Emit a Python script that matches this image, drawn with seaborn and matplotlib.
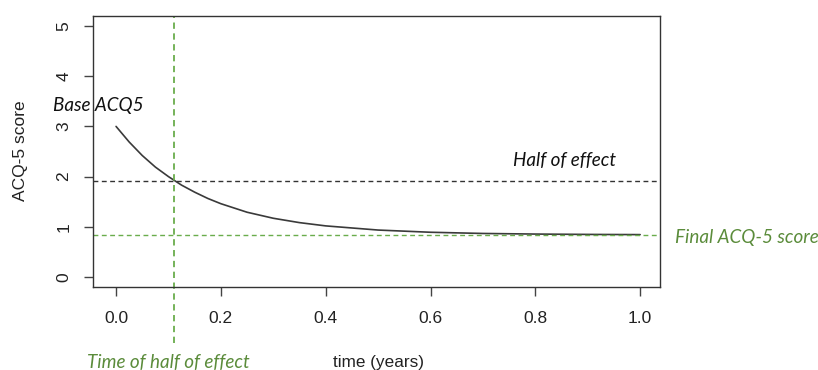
import numpy as np
import pandas as pd
import matplotlib
matplotlib.use("Agg")
import matplotlib.pyplot as plt
import seaborn as sns

# ==========================================
# DATA
# ==========================================

time_years = [0.0, 0.025, 0.05, 0.075, 0.1, 0.125, 0.15, 0.175, 0.2, 0.25,
              0.3, 0.35, 0.4, 0.5, 0.6, 0.7, 0.8, 0.9, 1.0]
acq5_score = [3.0, 2.69, 2.42, 2.19, 2.00, 1.83, 1.69, 1.565, 1.46, 1.29,
              1.17, 1.083, 1.018, 0.935, 0.891, 0.867, 0.855, 0.848, 0.844]

half_effect_time = 0.111
half_effect_score = 1.91
final_score = 0.84

x_ticks = [0.0, 0.2, 0.4, 0.6, 0.8, 1.0]
x_tick_labels = ["0.0", "0.2", "0.4", "0.6", "0.8", "1.0"]
y_ticks = [0, 1, 2, 3, 4, 5]

df = pd.DataFrame({"time": time_years, "score": acq5_score})

# ==========================================
# STYLE
# ==========================================

sns.set_theme(style="ticks")
plt.rcParams["font.family"] = ["Liberation Sans", "DejaVu Sans"]

green_line = "#6aad4c"
green_text = "#5b8c3b"
note_font = ["Lato", "DejaVu Sans"]
note_size = 13.6

fig = plt.figure(figsize=(8.18, 3.70), dpi=100)
ax = fig.add_axes([0.1137, 0.2243, 0.6932, 0.7324])

# ==========================================
# CURVE
# ==========================================

sns.lineplot(
    data=df,
    x="time",
    y="score",
    color="#3a3a3a",
    linewidth=1.2,
    ax=ax
)

# reference lines
ax.axhline(half_effect_score, color="#333333", linestyle=(0, (3.5, 2.5)),
           linewidth=1.0)
ax.axhline(final_score, color=green_line, linestyle=(0, (3.5, 2.5)),
           linewidth=1.0)
ax.axvline(half_effect_time, ymin=-0.205, ymax=1.0, color=green_line,
           linestyle=(0, (3.5, 2.5)), linewidth=1.3, clip_on=False)

ax.set_xlim(-0.044, 1.038)
ax.set_ylim(-0.2, 5.2)

ax.set_xticks(x_ticks)
ax.set_xticklabels(x_tick_labels)
ax.set_yticks(y_ticks)
ax.set_yticklabels([str(v) for v in y_ticks], rotation=90, va="center")

ax.tick_params(axis="both", length=6.5, width=1, color="#444444",
               labelsize=12.5, labelcolor="#222222", pad=9)
ax.tick_params(axis="x", pad=11)
for s in ax.spines.values():
    s.set_visible(True)
    s.set_color("#333333")
    s.set_linewidth(1.0)

ax.set_xlabel("")
ax.set_ylabel("")

fig.text(21 / 818, 1 - 151 / 370, "ACQ-5 score", fontsize=12.5,
         color="#222222", rotation=90, ha="center", va="center")
fig.text(333 / 818, 1 - 362 / 370, "time (years)", fontsize=12.3,
         color="#222222", va="center")

# ==========================================
# ANNOTATIONS
# ==========================================

fig.text(53 / 818, 1 - 105 / 370, "Base ACQ5", fontsize=note_size,
         style="italic", family=note_font, color="#111111", va="center")
fig.text(513 / 818, 1 - 160 / 370, "Half of effect", fontsize=note_size,
         style="italic", family=note_font, color="#111111", va="center")
fig.text(675 / 818, 1 - 238 / 370, "Final ACQ-5 score", fontsize=note_size,
         style="italic", family=note_font, color=green_text, va="center")
fig.text(87 / 818, 1 - 362 / 370, "Time of half of effect",
         fontsize=note_size, style="italic", family=note_font,
         color=green_text, va="center")

fig.savefig("out.png", dpi=100)
